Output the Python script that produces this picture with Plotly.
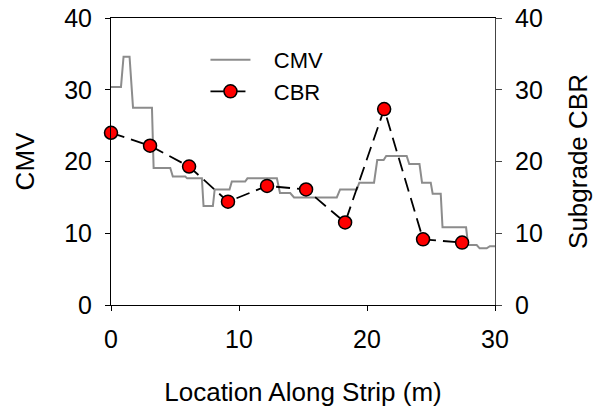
import plotly.graph_objects as go

# CMV roller measurement along the strip (step profile vertices)
cmv_x = [0, 0.78, 0.98, 1.45, 1.72, 3.2, 3.33, 4.63, 4.83, 5.8, 5.95, 7.1,
         7.23, 7.96, 8.1, 9.26, 9.44, 10.48, 10.66, 12.96, 13.2, 14.0, 14.3, 17.64,
         17.9, 19.2, 19.4, 20.55, 20.8, 21.3, 21.5, 23.1, 23.3, 24.1, 24.3, 24.98,
         25.13, 25.76, 25.9, 27.74, 27.9, 28.57, 28.8, 29.35, 29.6, 30]
cmv_y = [30.4, 30.4, 34.6, 34.6, 27.5, 27.5, 19.1, 19.1, 17.9, 17.9, 17.65, 17.65,
         13.8, 13.8, 16.1, 16.1, 17.2, 17.2, 17.65, 17.65, 15.6, 15.6, 15.0, 15.0,
         16.1, 16.1, 17.05, 17.05, 20.2, 20.2, 20.77, 20.77, 19.65, 19.65, 17.05, 17.05,
         15.5, 15.5, 10.83, 10.83, 8.36, 8.36, 7.9, 7.9, 8.2, 8.2]

# Subgrade CBR test locations (every 10 ft) and values
cbr_x = [0, 3.05, 6.1, 9.14, 12.19, 15.24, 18.29, 21.34, 24.38, 27.43]
cbr_y = [24.0, 22.2, 19.3, 14.4, 16.6, 16.1, 11.5, 27.3, 9.15, 8.7]

x_ticks = [0, 10, 20, 30]
y_ticks = [0, 10, 20, 30, 40]

FONT = "Arial, 'Liberation Sans', sans-serif"
GAP = "\u00a0\u00a0\u00a0"

fig = go.Figure()
fig.add_trace(go.Scatter(
    x=cmv_x, y=cmv_y, name=GAP + "CMV", mode="lines",
    line=dict(color="#8c8c8c", width=2),
))
fig.add_trace(go.Scatter(
    x=cbr_x, y=cbr_y, name=GAP + "CBR", mode="lines+markers", yaxis="y2",
    line=dict(color="black", width=1.8, dash="14px,7px"),
    marker=dict(size=13, color="#ff0000", line=dict(color="black", width=1.5)),
    cliponaxis=False,
))

tick_font = dict(family=FONT, size=25, color="black")
title_font = dict(family=FONT, size=26, color="black")

fig.update_layout(
    width=597, height=413,
    margin=dict(l=111, r=102, t=18, b=108),
    paper_bgcolor="white", plot_bgcolor="white",
    font=dict(family=FONT, color="black"),
    showlegend=True,
    legend=dict(
        x=0.246, y=0.927, xanchor="left", yanchor="top",
        bgcolor="rgba(0,0,0,0)", font=dict(family=FONT, size=22),
        itemwidth=40, tracegroupgap=0,
    ),
    xaxis=dict(
        range=[0, 30], tickvals=x_ticks, ticks="outside", ticklen=5,
        tickcolor="black", showline=True, linecolor="black", linewidth=1,
        mirror=True, showgrid=False, zeroline=False, automargin=False,
        tickfont=tick_font, ticklabelstandoff=7,
        title=dict(text="Location Along Strip (m)", font=title_font, standoff=30),
    ),
    xaxis3=dict(
        range=[0, 30], tickvals=x_ticks, ticks="inside", ticklen=4,
        tickcolor="black", overlaying="x", anchor="y", showticklabels=False,
        showline=False, showgrid=False, zeroline=False, automargin=False,
    ),
    yaxis=dict(
        range=[0, 40], tickvals=y_ticks, ticks="outside", ticklen=5,
        tickcolor="black", showline=True, linecolor="black", linewidth=1,
        showgrid=False, zeroline=False, tickfont=tick_font, automargin=False,
        ticklabelstandoff=8,
        title=dict(text="CMV", font=title_font, standoff=22),
    ),
    yaxis2=dict(
        range=[0, 40], tickvals=y_ticks, ticks="outside", ticklen=6,
        tickcolor="#444", showline=True, linecolor="#444", linewidth=1,
        overlaying="y", side="right", anchor="x", automargin=False,
        showgrid=False, zeroline=False, tickfont=tick_font,
        ticklabelstandoff=8,
        title=dict(text="Subgrade CBR", font=title_font, standoff=26),
    ),
)

fig.write_html("out.html")
